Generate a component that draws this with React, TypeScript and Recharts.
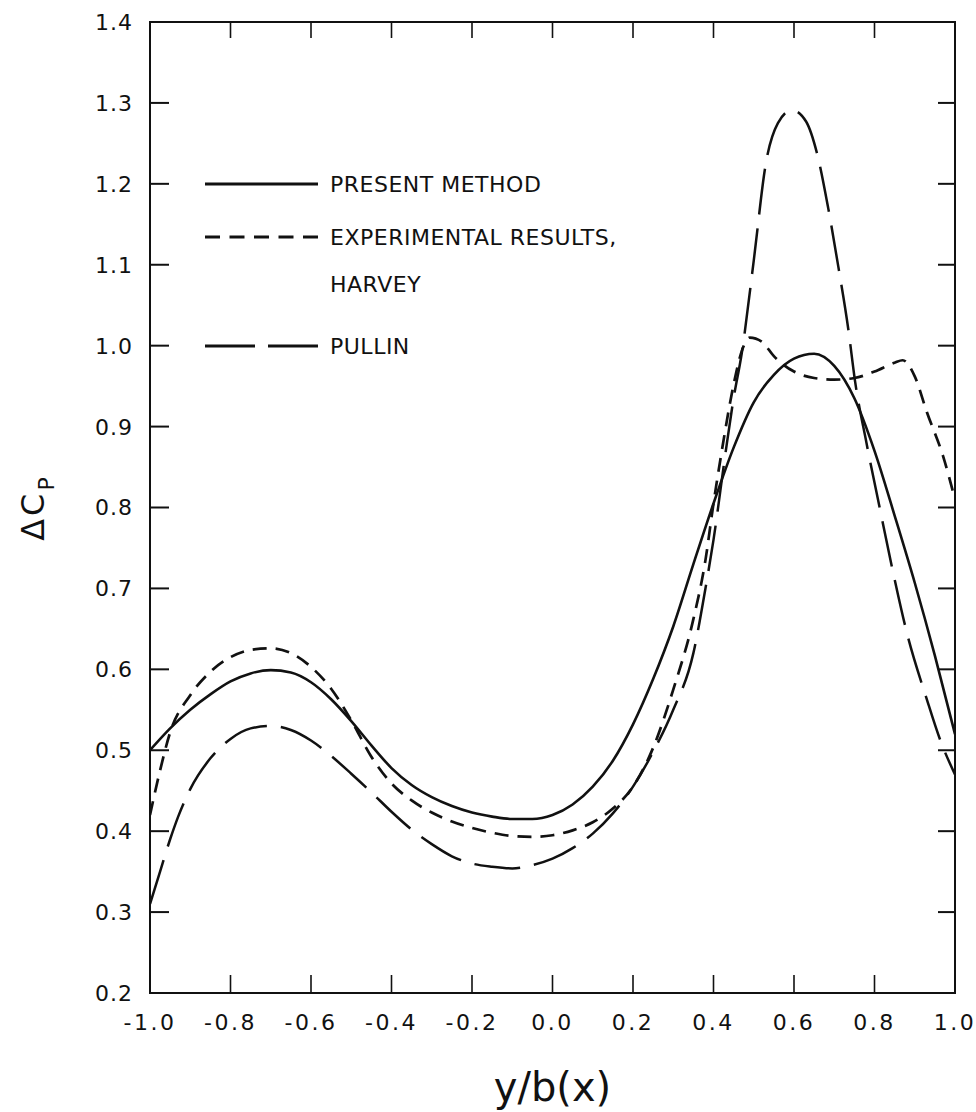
import { LineChart, Line, XAxis, YAxis, Legend, Label, ReferenceArea } from 'recharts'

const FONT = '"DejaVu Sans", sans-serif'
const INK = '#111'

// plot frame (px) — used only to draw the inward tick marks
const PL = 150
const PR = 955
const PT = 22
const PB = 993

const xTicks = [-1.0, -0.8, -0.6, -0.4, -0.2, 0.0, 0.2, 0.4, 0.6, 0.8, 1.0]
const yTicks = [0.2, 0.3, 0.4, 0.5, 0.6, 0.7, 0.8, 0.9, 1.0, 1.1, 1.2, 1.3, 1.4]

// present method (solid)
const presentX = [
  -1.0, -0.95, -0.9, -0.85, -0.8, -0.75, -0.7, -0.65, -0.6, -0.55, -0.5, -0.45, -0.4, -0.35, -0.3,
  -0.25, -0.2, -0.15, -0.1, -0.05, 0.0, 0.05, 0.1, 0.15, 0.2, 0.25, 0.3, 0.35, 0.4, 0.45, 0.5, 0.55,
  0.6, 0.65, 0.7, 0.75, 0.8, 0.85, 0.9, 0.95, 1.0,
]
const presentY = [
  0.5, 0.527, 0.55, 0.569, 0.585, 0.595, 0.599, 0.596, 0.584, 0.563, 0.536, 0.506, 0.478, 0.457,
  0.442, 0.431, 0.423, 0.418, 0.415, 0.415, 0.42, 0.433, 0.455, 0.487, 0.532, 0.588, 0.653, 0.73,
  0.805, 0.874, 0.93, 0.964, 0.984, 0.99, 0.975, 0.935, 0.87, 0.79, 0.707, 0.617, 0.52,
]

// experimental results, Harvey (short dashes)
const harveyX = [
  -1.0, -0.975, -0.95, -0.9, -0.85, -0.8, -0.75, -0.7, -0.65, -0.6, -0.55, -0.5, -0.45, -0.4,
  -0.35, -0.3, -0.25, -0.2, -0.15, -0.1, -0.05, 0.0, 0.05, 0.1, 0.15, 0.2, 0.25, 0.3, 0.35, 0.38,
  0.4, 0.42, 0.45, 0.47, 0.49, 0.52, 0.55, 0.6, 0.65, 0.7, 0.75, 0.8, 0.85, 0.87, 0.9, 0.93, 0.97,
  1.0,
]
const harveyY = [
  0.42, 0.475, 0.522, 0.568, 0.597, 0.615, 0.624, 0.626, 0.62, 0.603, 0.576, 0.537, 0.492, 0.459,
  0.438, 0.423, 0.412, 0.404, 0.398, 0.394, 0.393, 0.395, 0.401, 0.411, 0.428, 0.455, 0.503,
  0.575, 0.662, 0.735, 0.805, 0.868, 0.952, 0.993, 1.01, 1.005, 0.987, 0.968, 0.96, 0.958, 0.96,
  0.968, 0.979, 0.982, 0.962, 0.918, 0.864, 0.81,
]

// Pullin (long dashes)
const pullinX = [
  -1.0, -0.975, -0.95, -0.93, -0.9, -0.85, -0.8, -0.75, -0.7, -0.65, -0.6, -0.55, -0.5, -0.45,
  -0.4, -0.35, -0.3, -0.25, -0.2, -0.15, -0.1, -0.05, 0.0, 0.05, 0.1, 0.15, 0.2, 0.25, 0.3, 0.35,
  0.38, 0.4, 0.43, 0.45, 0.47, 0.5, 0.53, 0.56, 0.595, 0.63, 0.657, 0.685, 0.71, 0.735, 0.752,
  0.78, 0.814, 0.847, 0.88, 0.93, 0.963, 1.0,
]
const pullinY = [
  0.31, 0.35, 0.39, 0.418, 0.452, 0.49, 0.514, 0.527, 0.53, 0.525, 0.512, 0.493, 0.471, 0.448,
  0.424, 0.402, 0.384, 0.369, 0.36, 0.356, 0.354, 0.358, 0.366, 0.379, 0.397, 0.422, 0.455, 0.498,
  0.55, 0.62, 0.7, 0.76, 0.868, 0.935, 0.99, 1.105, 1.225, 1.275, 1.291, 1.277, 1.238, 1.17,
  1.098, 1.02, 0.955, 0.88, 0.797, 0.718, 0.646, 0.563, 0.513, 0.47,
]

const toPoints = (xs: number[], ys: number[]) => xs.map((x, i) => ({ x, y: ys[i] }))

const series = [
  { key: 'present', data: toPoints(presentX, presentY), width: 2.6, dash: undefined as string | undefined, legendDash: undefined as string | undefined },
  { key: 'harvey', data: toPoints(harveyX, harveyY), width: 2.7, dash: '14 9', legendDash: '15 9.5' },
  { key: 'pullin', data: toPoints(pullinX, pullinY), width: 2.5, dash: '46 14', legendDash: '50 13' },
]

const textStyle = { fontFamily: FONT, fill: INK }

// label on the left plus inward ticks on left and right borders
function YTick(props: any) {
  const { x, y, payload } = props
  return (
    <g>
      <line x1={PL} x2={PL + 19} y1={y} y2={y} stroke={INK} strokeWidth={2} />
      <line x1={PR - 17} x2={PR} y1={y} y2={y} stroke={INK} strokeWidth={2} />
      <text x={x} y={y} dy="0.36em" textAnchor="end" fontSize={22} letterSpacing={1} {...textStyle}>
        {Number(payload.value).toFixed(1)}
      </text>
    </g>
  )
}

// label below plus inward ticks on bottom and top borders
function XTick(props: any) {
  const { x, y, payload } = props
  return (
    <g>
      <line x1={x} x2={x} y1={PB} y2={PB - 18} stroke={INK} strokeWidth={1.6} />
      <line x1={x} x2={x} y1={PT} y2={PT + 16} stroke={INK} strokeWidth={1.6} />
      <text x={x} y={y} dy="0.71em" textAnchor="middle" fontSize={22} letterSpacing={2.5} {...textStyle}>
        {Number(payload.value).toFixed(1)}
      </text>
    </g>
  )
}

function LegendBox() {
  const rows = [
    { y: 13, dash: series[0].legendDash, lines: ['PRESENT METHOD'] },
    { y: 66, dash: series[1].legendDash, lines: ['EXPERIMENTAL RESULTS,', 'HARVEY'] },
    { y: 175, dash: series[2].legendDash, lines: ['PULLIN'] },
  ]
  return (
    <svg width={480} height={200}>
      {rows.map((r) => (
        <g key={r.y}>
          <line x1={0} x2={113} y1={r.y} y2={r.y} stroke={INK} strokeWidth={2.8} strokeDasharray={r.dash} />
          {r.lines.map((t, i) => (
            <text key={t} x={125} y={r.y + i * 47} dy="0.36em" fontSize={22} letterSpacing={0.5} {...textStyle}>
              {t}
            </text>
          ))}
        </g>
      ))}
    </svg>
  )
}

export default function App() {
  return (
    <div style={{ position: 'absolute', left: 0, top: 0, background: '#fff' }}>
      <LineChart width={976} height={1112} margin={{ top: PT, right: 976 - PR, bottom: 0, left: 0 }}>
        <XAxis
          xAxisId="b"
          dataKey="x"
          type="number"
          domain={[-1, 1]}
          ticks={xTicks}
          allowDataOverflow
          height={1112 - PB}
          tickLine={false}
          tickSize={0}
          tickMargin={21}
          axisLine={{ stroke: INK, strokeWidth: 2 }}
          tick={<XTick />}
        >
          <Label
            content={({ viewBox }: any) => (
              <text
                x={viewBox.x + viewBox.width / 2}
                y={viewBox.y + 108}
                textAnchor="middle"
                fontSize={40}
                {...textStyle}
              >
                y/b(x)
              </text>
            )}
          />
        </XAxis>
        <YAxis
          yAxisId="l"
          type="number"
          domain={[0.2, 1.4]}
          ticks={yTicks}
          allowDataOverflow
          width={PL}
          tickLine={false}
          tickSize={0}
          tickMargin={17}
          axisLine={{ stroke: INK, strokeWidth: 2 }}
          tick={<YTick />}
        >
          <Label
            content={({ viewBox }: any) => {
              const cx = viewBox.x + 44
              const cy = viewBox.y + viewBox.height / 2
              return (
                <text
                  x={cx}
                  y={cy}
                  transform={`rotate(-90, ${cx}, ${cy})`}
                  textAnchor="middle"
                  fontSize={32}
                  letterSpacing={3}
                  {...textStyle}
                >
                  ΔC
                  <tspan fontSize={22} dy={10}>
                    P
                  </tspan>
                </text>
              )
            }}
          />
        </YAxis>
        <ReferenceArea
          xAxisId="b"
          yAxisId="l"
          x1={-1}
          x2={1}
          y1={0.2}
          y2={1.4}
          fill="none"
          stroke={INK}
          strokeWidth={2}
          ifOverflow="visible"
        />
        <Legend
          layout="vertical"
          align="center"
          verticalAlign="middle"
          content={() => <LegendBox />}
          wrapperStyle={{ left: 205, top: 171, width: 480, height: 200 }}
        />
        {series.map((s) => (
          <Line
            key={s.key}
            xAxisId="b"
            yAxisId="l"
            data={s.data}
            dataKey="y"
            type="monotone"
            stroke={INK}
            strokeWidth={s.width}
            strokeDasharray={s.dash}
            dot={false}
            activeDot={false}
            isAnimationActive={false}
          />
        ))}
      </LineChart>
    </div>
  )
}
